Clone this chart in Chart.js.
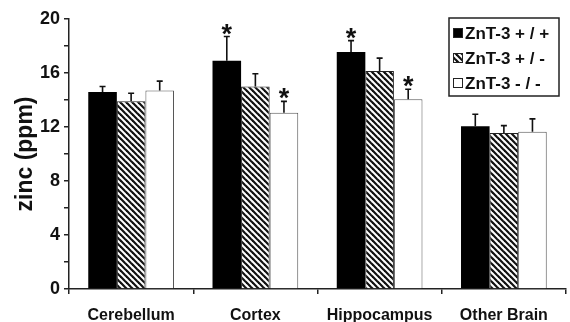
<!DOCTYPE html>
<html>
<head>
<meta charset="utf-8">
<script src="https://cdn.jsdelivr.net/npm/chart.js@4/dist/chart.umd.min.js"></script>
<style>
  body { margin: 0; background: #fff; }
  #wrap { width: 570px; height: 322px; }
</style>
</head>
<body>
<div id="wrap"><canvas id="zincChart" width="570" height="322"></canvas></div>
<script>
// regions and genotypes
const regions = ["Cerebellum", "Cortex", "Hippocampus", "Other Brain"];
const genotypes = ["ZnT-3 + / +", "ZnT-3 + / -", "ZnT-3 - / -"];

// mean zinc (ppm)
const wildType = [14.6, 16.9, 17.55, 12.05];
const hetero = [13.9, 15.0, 16.15, 11.55];
const knockout = [14.7, 13.05, 14.05, 11.65];

// upper error bar lengths
const wildTypeErr = [0.4, 1.8, 0.85, 0.9];
const heteroErr = [0.6, 0.95, 0.95, 0.55];
const knockoutErr = [0.7, 0.85, 0.75, 0.95];

// significance markers
const wildTypeSig = [false, true, true, false];
const heteroSig = [false, false, false, false];
const knockoutSig = [false, true, true, false];

const yTicks = [0, 4, 8, 12, 16, 20];

function makeHatch() {
    const s = 6;
    const c = document.createElement('canvas');
    c.width = s; c.height = s;
    const g = c.getContext('2d');
    g.fillStyle = '#fff';
    g.fillRect(0, 0, s, s);
    g.strokeStyle = '#111';
    g.lineWidth = 2.2;
    for (let k = -1; k <= 1; k++) {
        g.beginPath();
        g.moveTo(k * s - 1, -1);
        g.lineTo(k * s + s + 1, s + 1);
        g.stroke();
    }
    return g.createPattern(c, 'repeat');
}

const hatch = makeHatch();
const FONT = "'Liberation Sans', Arial, sans-serif";

// error bars + asterisks
const errorBarPlugin = {
    id: 'errorBars',
    afterDatasetsDraw(chart) {
        const ctx = chart.ctx;
        const y = chart.scales.y;
        chart.data.datasets.forEach((ds, i) => {
            const meta = chart.getDatasetMeta(i);
            meta.data.forEach((bar, j) => {
                const top = y.getPixelForValue(ds.data[j] + ds.errs[j]);
                ctx.save();
                ctx.strokeStyle = '#111';
                ctx.lineWidth = 1.6;
                ctx.beginPath();
                ctx.moveTo(bar.x, bar.y);
                ctx.lineTo(bar.x, top);
                ctx.moveTo(bar.x - 3, top);
                ctx.lineTo(bar.x + 3, top);
                ctx.stroke();
                if (ds.sig[j]) {
                    ctx.fillStyle = '#111';
                    ctx.font = "bold 27px " + FONT;
                    ctx.textAlign = 'center';
                    ctx.textBaseline = 'alphabetic';
                    ctx.fillText('*', bar.x, top + 6);
                }
                ctx.restore();
            });
        });
    }
};

// boxed legend in the upper right
const boxLegendPlugin = {
    id: 'boxLegend',
    afterDraw(chart) {
        const ctx = chart.ctx;
        const x0 = 449, y0 = 18, w = 110, h = 78;
        ctx.save();
        ctx.fillStyle = '#fff';
        ctx.fillRect(x0, y0, w, h);
        ctx.strokeStyle = '#222';
        ctx.lineWidth = 1.5;
        ctx.strokeRect(x0, y0, w, h);
        ctx.font = "bold 17px " + FONT;
        ctx.textBaseline = 'middle';
        chart.data.datasets.forEach((ds, i) => {
            const cy = y0 + 15 + i * 25;
            ctx.fillStyle = ds.backgroundColor;
            ctx.fillRect(453, cy - 5, 10, 10);
            ctx.strokeStyle = '#222';
            ctx.lineWidth = 1;
            ctx.strokeRect(453.5, cy - 4.5, 9, 9);
            ctx.fillStyle = '#111';
            ctx.fillText(ds.label, 465, cy + 1);
        });
        ctx.restore();
    }
};

new Chart(document.getElementById('zincChart'), {
    type: 'bar',
    data: {
        labels: regions,
        datasets: [
            { label: genotypes[0], data: wildType, errs: wildTypeErr, sig: wildTypeSig,
              backgroundColor: '#000', borderColor: '#000', borderWidth: 0 },
            { label: genotypes[1], data: hetero, errs: heteroErr, sig: heteroSig,
              backgroundColor: hatch, borderColor: '#222', borderWidth: 1 },
            { label: genotypes[2], data: knockout, errs: knockoutErr, sig: knockoutSig,
              backgroundColor: '#fff', borderColor: '#555', borderWidth: 1 }
        ]
    },
    options: {
        responsive: false,
        animation: false,
        layout: { padding: { top: 19, right: 4, left: 0, bottom: 0 } },
        datasets: { bar: { categoryPercentage: 0.69, barPercentage: 1.0 } },
        plugins: { legend: { display: false }, tooltip: { enabled: false } },
        scales: {
            x: {
                grid: { offset: true, drawOnChartArea: false, drawTicks: true, tickLength: 5, color: '#222', lineWidth: 1.5 },
                border: { display: true, color: '#222', width: 1.5 },
                ticks: { color: '#111', font: { family: FONT, size: 16, weight: 'bold' }, padding: 12 },
                afterFit(scale) { scale.height = 33; }
            },
            y: {
                min: 0, max: 20,
                grid: { drawOnChartArea: false, drawTicks: true, tickLength: 5, color: '#222', lineWidth: 1.5 },
                border: { display: true, color: '#222', width: 1.5 },
                ticks: {
                    stepSize: 2,
                    color: '#111',
                    padding: 4,
                    font: { family: FONT, size: 18, weight: 'bold' },
                    callback: v => yTicks.includes(v) ? v : ''
                },
                title: { display: true, text: 'zinc (ppm)', color: '#111', font: { family: FONT, size: 23, weight: 'bold' }, padding: { top: 12, bottom: 0 } },
                afterFit(scale) { scale.width = 69; }
            }
        }
    },
    plugins: [errorBarPlugin, boxLegendPlugin]
});
</script>
</body>
</html>
